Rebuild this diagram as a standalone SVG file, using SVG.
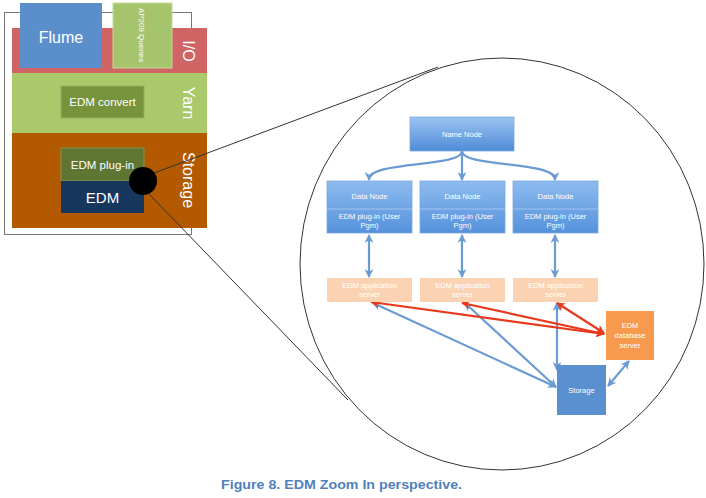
<svg xmlns="http://www.w3.org/2000/svg" width="706" height="498" viewBox="0 0 706 498">
<defs>
<linearGradient id="gBlue" x1="0" y1="0" x2="0" y2="1">
<stop offset="0" stop-color="#9cc4f2"/>
<stop offset="1" stop-color="#4f8bd8"/>
</linearGradient>
<linearGradient id="gData" x1="0" y1="0" x2="0" y2="1">
<stop offset="0" stop-color="#8dbbef"/>
<stop offset="1" stop-color="#5592dc"/>
</linearGradient>
<marker id="ab" viewBox="0 0 10 10" refX="9" refY="5" markerWidth="4" markerHeight="4" orient="auto-start-reverse">
<path d="M0,0 L10,5 L0,10 L3,5 z" fill="#6a9bd2"/>
</marker>
<marker id="ar" viewBox="0 0 10 10" refX="9" refY="5" markerWidth="4" markerHeight="4" orient="auto-start-reverse">
<path d="M0,0 L10,5 L0,10 L3,5 z" fill="#e8391d"/>
</marker>
</defs>
<style>
.t{font-family:"Liberation Sans",Arial,sans-serif;fill:#fff;text-anchor:middle}
.s{font-size:7.5px}
.blue{stroke:#6a9bd2;stroke-width:2.2;fill:none;marker-start:url(#ab);marker-end:url(#ab)}
.red{stroke:#e8391d;stroke-width:2.2;fill:none;marker-start:url(#ar);marker-end:url(#ar)}
.zoom{stroke:#333;stroke-width:1;fill:none}
</style>
<rect width="706" height="498" fill="#fff"/>

<g id="stack">
<rect x="4.5" y="12.5" width="187" height="222" fill="#fff" stroke="#777" stroke-width="1"/>
<rect x="12" y="28" width="195" height="45" fill="#d06464"/>
<rect x="12" y="73" width="195" height="60" fill="#a9c96b"/>
<rect x="12" y="133" width="195" height="95" fill="#b35a00"/>
</g>
<g id="flume">
<rect x="20" y="3" width="82" height="65" fill="#5b8fcb"/>
<text class="t" x="61" y="43" font-size="16">Flume</text>
</g>
<g id="ap209">
<rect x="113" y="3" width="59" height="65" fill="#a6c46c" stroke="#c4d99a" stroke-width="1"/>
<text class="t" font-size="8" transform="translate(139,35) rotate(90)">AP209 Queries</text>
</g>
<g id="io-label"><text class="t" font-size="16" transform="translate(183,51) rotate(90)">I/O</text></g>
<g id="yarn-label"><text class="t" font-size="16" transform="translate(183,103) rotate(90)">Yarn</text></g>
<g id="storage-label"><text class="t" font-size="16" transform="translate(183,180) rotate(90)">Storage</text></g>
<g id="edm-convert">
<rect x="61" y="86" width="83" height="32" fill="#77933c" stroke="#97b060" stroke-width="1"/>
<text class="t" x="102.5" y="106" font-size="11.5">EDM convert</text>
</g>
<g id="edm-plugin">
<rect x="61" y="148" width="83" height="33" fill="#5f7633" stroke="#7f9655" stroke-width="1"/>
<text class="t" x="102.5" y="169" font-size="11.5">EDM plug-in</text>
</g>
<g id="edm">
<rect x="61" y="181" width="83" height="32" fill="#17375e"/>
<text class="t" x="102.5" y="203" font-size="15">EDM</text>
</g>

<g id="zoom-lines">
<ellipse class="zoom" cx="502" cy="264" rx="202" ry="206"/>
<line class="zoom" x1="146" y1="176" x2="438" y2="67"/>
<line class="zoom" x1="149" y1="194" x2="348" y2="400"/>
<circle cx="143" cy="181" r="14" fill="#000"/>
</g>

<g id="connectors">
<path d="M462,151 C462,168 369,160 369,180" stroke="#6a9bd2" stroke-width="2.2" fill="none" marker-end="url(#ab)"/>
<path d="M462,151 L462,180" stroke="#6a9bd2" stroke-width="2.2" fill="none" marker-end="url(#ab)"/>
<path d="M462,151 C462,168 555,160 555,180" stroke="#6a9bd2" stroke-width="2.2" fill="none" marker-end="url(#ab)"/>
<line class="blue" x1="369" y1="235" x2="369" y2="277"/>
<line class="blue" x1="462" y1="235" x2="462" y2="277"/>
<line class="blue" x1="555" y1="235" x2="555" y2="277"/>
<line class="blue" x1="373" y1="303" x2="556" y2="387"/>
<line class="blue" x1="465" y1="303" x2="556" y2="387"/>
<line class="blue" x1="557" y1="303" x2="557" y2="370"/>
<line class="blue" x1="608" y1="386" x2="629" y2="361"/>
<line class="red" x1="371" y1="302" x2="604" y2="334"/>
<line class="red" x1="462" y1="303" x2="604" y2="334"/>
<line class="red" x1="557" y1="303" x2="604" y2="333"/>
</g>

<g id="name-node">
<rect x="410" y="117" width="104" height="34" fill="url(#gBlue)" stroke="#7aa8e0" stroke-width="0.8"/>
<text class="t s" x="462" y="137">Name Node</text>
</g>
<g id="data-node-1">
<rect x="327" y="181" width="85" height="52" fill="url(#gData)" stroke="#7aa8e0" stroke-width="0.8"/>
<line x1="327" y1="209" x2="412" y2="209" stroke="#a9cbf3" stroke-width="0.8"/>
<text class="t s" x="369.5" y="199">Data Node</text>
<text class="t s" x="369.5" y="219">EDM plug-in (User</text>
<text class="t s" x="369.5" y="228">Pgm)</text>
</g>
<g id="data-node-2">
<rect x="420" y="181" width="85" height="52" fill="url(#gData)" stroke="#7aa8e0" stroke-width="0.8"/>
<line x1="420" y1="209" x2="505" y2="209" stroke="#a9cbf3" stroke-width="0.8"/>
<text class="t s" x="462.5" y="199">Data Node</text>
<text class="t s" x="462.5" y="219">EDM plug-in (User</text>
<text class="t s" x="462.5" y="228">Pgm)</text>
</g>
<g id="data-node-3">
<rect x="513" y="181" width="85" height="52" fill="url(#gData)" stroke="#7aa8e0" stroke-width="0.8"/>
<line x1="513" y1="209" x2="598" y2="209" stroke="#a9cbf3" stroke-width="0.8"/>
<text class="t s" x="555.5" y="199">Data Node</text>
<text class="t s" x="555.5" y="219">EDM plug-in (User</text>
<text class="t s" x="555.5" y="228">Pgm)</text>
</g>
<g id="app-server-1">
<rect x="327" y="278" width="85" height="24" fill="#fbd3b3"/>
<text class="t s" x="369.5" y="288">EDM application</text>
<text class="t s" x="369.5" y="297">server</text>
</g>
<g id="app-server-2">
<rect x="420" y="278" width="85" height="24" fill="#fbd3b3"/>
<text class="t s" x="462.5" y="288">EDM application</text>
<text class="t s" x="462.5" y="297">server</text>
</g>
<g id="app-server-3">
<rect x="513" y="278" width="85" height="24" fill="#fbd3b3"/>
<text class="t s" x="555.5" y="288">EDM application</text>
<text class="t s" x="555.5" y="297">server</text>
</g>
<g id="db-server">
<rect x="606" y="311" width="48" height="49" fill="#f79a4e"/>
<text class="t s" x="630" y="328">EDM</text>
<text class="t s" x="630" y="338">database</text>
<text class="t s" x="630" y="348">server</text>
</g>
<g id="storage">
<rect x="557" y="365" width="49" height="50" fill="#5a8fd0"/>
<text class="t s" x="581.5" y="393">Storage</text>
</g>
<g id="caption">
<text x="221" y="489" font-family="Liberation Sans,Arial,sans-serif" font-weight="bold" font-size="13" fill="#4f81bd" textLength="241" lengthAdjust="spacingAndGlyphs">Figure 8. EDM Zoom In perspective.</text>
</g>
</svg>
